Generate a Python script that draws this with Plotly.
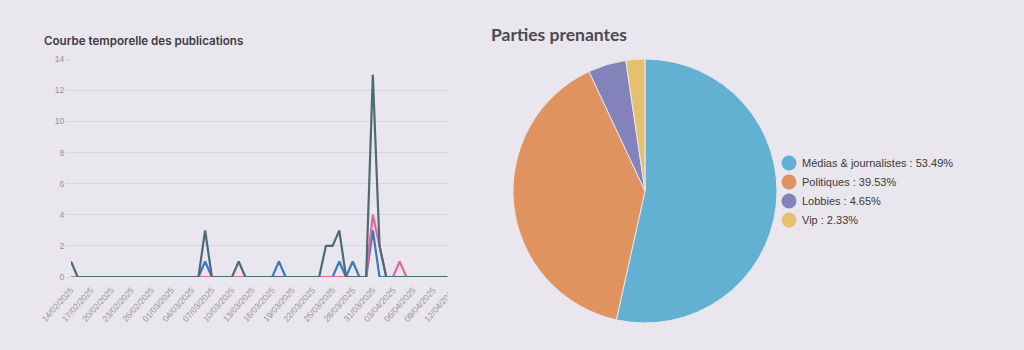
import plotly.graph_objects as go

# ---------------- data ----------------
dates = [
    "14/02/2025", "15/02/2025", "16/02/2025", "17/02/2025", "18/02/2025", "19/02/2025",
    "20/02/2025", "21/02/2025", "22/02/2025", "23/02/2025", "24/02/2025", "25/02/2025",
    "26/02/2025", "27/02/2025", "28/02/2025", "01/03/2025", "02/03/2025", "03/03/2025",
    "04/03/2025", "05/03/2025", "06/03/2025", "07/03/2025", "08/03/2025", "09/03/2025",
    "10/03/2025", "11/03/2025", "12/03/2025", "13/03/2025", "14/03/2025", "15/03/2025",
    "16/03/2025", "17/03/2025", "18/03/2025", "19/03/2025", "20/03/2025", "21/03/2025",
    "22/03/2025", "23/03/2025", "24/03/2025", "25/03/2025", "26/03/2025", "27/03/2025",
    "28/03/2025", "29/03/2025", "30/03/2025", "31/03/2025", "01/04/2025", "02/04/2025",
    "03/04/2025", "04/04/2025", "05/04/2025", "06/04/2025", "07/04/2025", "08/04/2025",
    "09/04/2025", "10/04/2025", "11/04/2025", "12/04/2025",
]
series_dark = [1, 0, 0, 0, 0, 0, 0, 0, 0, 0, 0, 0, 0, 0, 0, 0, 0, 0, 0, 0,
               3, 0, 0, 0, 0, 1, 0, 0, 0, 0, 0, 0, 0, 0, 0, 0, 0, 0, 2, 2,
               3, 0, 0, 0, 0, 13, 2, 0, 0, 0, 0, 0, 0, 0, 0, 0, 0, 0]
series_blue = [0, 0, 0, 0, 0, 0, 0, 0, 0, 0, 0, 0, 0, 0, 0, 0, 0, 0, 0, 0,
               1, 0, 0, 0, 0, 0, 0, 0, 0, 0, 0, 1, 0, 0, 0, 0, 0, 0, 0, 0,
               1, 0, 1, 0, 0, 3, 0, 0, 0, 0, 0, 0, 0, 0, 0, 0, 0, 0]
series_pink = [0, 0, 0, 0, 0, 0, 0, 0, 0, 0, 0, 0, 0, 0, 0, 0, 0, 0, 0, 0,
               0, 0, 0, 0, 0, 0, 0, 0, 0, 0, 0, 0, 0, 0, 0, 0, 0, 0, 0, 0,
               0, 0, 0, 0, 0, 4, 2, 0, 0, 1, 0, 0, 0, 0, 0, 0, 0, 0]
y_ticks = [0, 2, 4, 6, 8, 10, 12, 14]
x_tick_labels = dates[::3]

pie_labels = ["Médias & journalistes", "Politiques", "Lobbies", "Vip"]
pie_values = [23, 17, 2, 1]
pie_colors = ["#62b1d3", "#e0925f", "#8482bb", "#e5c06f"]

BG = "#e9e6ed"
W, H = 1024, 350


def px(x):
    return x / W


def py(y):
    return 1 - y / H


fig = go.Figure()

# line series (blue bottom, pink middle, dark top)
for vals, col in [(series_blue, "#3d77c2"), (series_pink, "#e0679f"), (series_dark, "#4d6a78")]:
    fig.add_trace(go.Scatter(x=dates, y=vals, mode="lines",
                             line=dict(color=col, width=2.2),
                             showlegend=False, xaxis="x", yaxis="y"))

# pie
fig.add_trace(go.Pie(labels=pie_labels, values=pie_values, sort=False,
                     direction="clockwise", rotation=0,
                     marker=dict(colors=pie_colors, line=dict(color=BG, width=1)),
                     textinfo="none", showlegend=False,
                     domain=dict(x=[px(513), px(777)], y=[py(323), py(59)])))

annotations = [
    dict(text="Courbe temporelle des publications", x=px(42), y=py(41),
         xref="paper", yref="paper", xanchor="left", yanchor="middle", showarrow=False,
         font=dict(family="Inter", size=11.6, color="#3c3c42", weight=600)),
    dict(text="Parties prenantes", x=px(489), y=py(35),
         xref="paper", yref="paper", xanchor="left", yanchor="middle", showarrow=False,
         font=dict(family="Lato", size=17.5, color="#4a4a52", weight=700)),
]
shapes = [
    # clip of the line chart container on the right
    dict(type="rect", xref="paper", yref="paper", x0=px(447.5), x1=px(470),
         y0=0, y1=1, fillcolor=BG, line=dict(width=0), layer="above"),
]

# custom legend with circle markers
total = sum(pie_values)
leg_x, leg_y0, leg_step, r = 789, 163, 19, 7.5
for i, (lab, val, col) in enumerate(zip(pie_labels, pie_values, pie_colors)):
    yc = leg_y0 + i * leg_step
    shapes.append(dict(type="circle", xref="paper", yref="paper",
                       x0=px(leg_x - r), x1=px(leg_x + r), y0=py(yc + r), y1=py(yc - r),
                       fillcolor=col, line=dict(width=0), layer="above"))
    annotations.append(dict(text=f"{lab} : {val / total * 100:.2f}%",
                            x=px(leg_x + 11), y=py(yc), xref="paper", yref="paper",
                            xanchor="left", yanchor="middle", showarrow=False,
                            font=dict(family="Liberation Sans", size=11, color="#3a3a3a")))

fig.update_layout(
    width=W, height=H, autosize=False,
    margin=dict(l=0, r=0, t=0, b=0, pad=0),
    paper_bgcolor=BG, plot_bgcolor=BG,
    showlegend=False,
    xaxis=dict(domain=[px(71), px(455)], type="category", automargin=False,
               range=[0, 57.25], tickmode="array",
               tickvals=x_tick_labels, ticktext=x_tick_labels,
               tickangle=-48, tickfont=dict(family="Liberation Sans", size=8.5, color="#96939b"),
               showgrid=False, zeroline=False, showline=False,
               ticks="outside", ticklen=4, tickcolor="rgba(0,0,0,0)"),
    yaxis=dict(domain=[py(277), py(59.3)], range=[0, 14], tickvals=y_ticks, automargin=False,
               tickfont=dict(family="Liberation Sans", size=8.5, color="#96939b"),
               gridcolor="#d6d3db", gridwidth=1, zeroline=False, showline=False,
               ticks="outside", ticklen=4, tickcolor="#d6d3db"),
    annotations=annotations,
    shapes=shapes,
)

fig.write_html("out.html")
